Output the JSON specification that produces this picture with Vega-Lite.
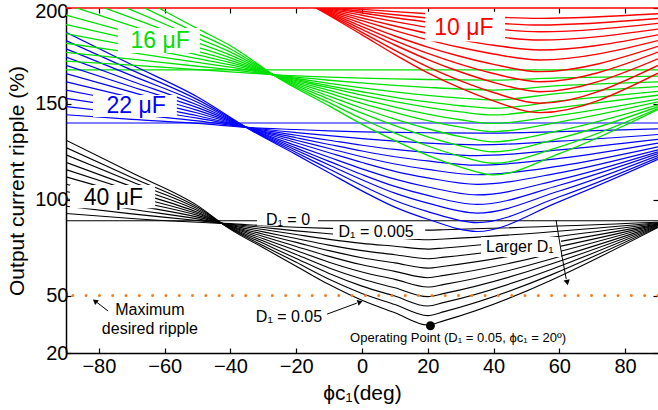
{
  "$schema": "https://vega.github.io/schema/vega-lite/v6.json",
  "width": 592,
  "height": 345,
  "autosize": "none",
  "padding": {"left": 66, "top": 8, "right": 0, "bottom": 57},
  "background": "white",
  "config": {
    "view": {"stroke": null},
    "font": "Liberation Sans",
    "axis": {
      "grid": false,
      "domainColor": "black",
      "domainWidth": 1.5,
      "tickColor": "black",
      "tickWidth": 1.2,
      "tickSize": -5,
      "labelColor": "black",
      "labelFont": "Liberation Sans",
      "labelFontSize": 20,
      "titleFont": "Liberation Sans",
      "titleFontSize": 21,
      "titleFontWeight": "normal",
      "titleColor": "black"
    }
  },
  "datasets": {
    "curves": [
      {"C":"40 μF","k":0,"phi":-90,"v":89},{"C":"40 μF","k":0,"phi":90,"v":89},
      {"C":"22 μF","k":0,"phi":-90,"v":140},{"C":"22 μF","k":0,"phi":90,"v":140},
      {"C":"16 μF","k":0,"phi":-90,"v":167.7},{"C":"16 μF","k":0,"phi":90,"v":167.7},
      {"C":"10 μF","k":0,"phi":-90,"v":200},{"C":"10 μF","k":0,"phi":90,"v":200},

      {"C":"40 μF","k":1,"phi":-90,"v":92.8},{"C":"40 μF","k":1,"phi":-70,"v":90.2},{"C":"40 μF","k":1,"phi":-50,"v":88.2},{"C":"40 μF","k":1,"phi":-40,"v":87.5},{"C":"40 μF","k":1,"phi":-30,"v":86.4},{"C":"40 μF","k":1,"phi":-20,"v":85.6},{"C":"40 μF","k":1,"phi":-10,"v":85.0},{"C":"40 μF","k":1,"phi":0,"v":84.6},{"C":"40 μF","k":1,"phi":10,"v":84.3},{"C":"40 μF","k":1,"phi":20,"v":84.1},{"C":"40 μF","k":1,"phi":25,"v":84.3},{"C":"40 μF","k":1,"phi":90,"v":88.2},
      {"C":"40 μF","k":2,"phi":-90,"v":96.6},{"C":"40 μF","k":2,"phi":-70,"v":92.6},{"C":"40 μF","k":2,"phi":-50,"v":89.1},{"C":"40 μF","k":2,"phi":-40,"v":87.2},{"C":"40 μF","k":2,"phi":-30,"v":85.5},{"C":"40 μF","k":2,"phi":-20,"v":83.7},{"C":"40 μF","k":2,"phi":-10,"v":82.2},{"C":"40 μF","k":2,"phi":0,"v":80.8},{"C":"40 μF","k":2,"phi":10,"v":80.0},{"C":"40 μF","k":2,"phi":20,"v":79.1},{"C":"40 μF","k":2,"phi":25,"v":79.5},{"C":"40 μF","k":2,"phi":90,"v":88.0},
      {"C":"40 μF","k":3,"phi":-90,"v":100.5},{"C":"40 μF","k":3,"phi":-70,"v":95.0},{"C":"40 μF","k":3,"phi":-50,"v":90.0},{"C":"40 μF","k":3,"phi":-40,"v":86.9},{"C":"40 μF","k":3,"phi":-30,"v":84.4},{"C":"40 μF","k":3,"phi":-20,"v":81.8},{"C":"40 μF","k":3,"phi":-10,"v":79.3},{"C":"40 μF","k":3,"phi":0,"v":77.2},{"C":"40 μF","k":3,"phi":10,"v":75.7},{"C":"40 μF","k":3,"phi":20,"v":74.2},{"C":"40 μF","k":3,"phi":25,"v":74.8},{"C":"40 μF","k":3,"phi":90,"v":87.7},
      {"C":"40 μF","k":4,"phi":-90,"v":104.3},{"C":"40 μF","k":4,"phi":-70,"v":97.4},{"C":"40 μF","k":4,"phi":-50,"v":90.9},{"C":"40 μF","k":4,"phi":-40,"v":86.6},{"C":"40 μF","k":4,"phi":-30,"v":83.2},{"C":"40 μF","k":4,"phi":-20,"v":79.7},{"C":"40 μF","k":4,"phi":-10,"v":76.3},{"C":"40 μF","k":4,"phi":0,"v":73.4},{"C":"40 μF","k":4,"phi":10,"v":71.3},{"C":"40 μF","k":4,"phi":20,"v":69.2},{"C":"40 μF","k":4,"phi":25,"v":70.0},{"C":"40 μF","k":4,"phi":90,"v":87.4},
      {"C":"40 μF","k":5,"phi":-90,"v":108.1},{"C":"40 μF","k":5,"phi":-70,"v":99.7},{"C":"40 μF","k":5,"phi":-50,"v":91.8},{"C":"40 μF","k":5,"phi":-40,"v":86.3},{"C":"40 μF","k":5,"phi":-30,"v":82.0},{"C":"40 μF","k":5,"phi":-20,"v":77.7},{"C":"40 μF","k":5,"phi":-10,"v":73.4},{"C":"40 μF","k":5,"phi":0,"v":69.7},{"C":"40 μF","k":5,"phi":10,"v":67.0},{"C":"40 μF","k":5,"phi":20,"v":64.3},{"C":"40 μF","k":5,"phi":25,"v":65.3},{"C":"40 μF","k":5,"phi":90,"v":87.1},
      {"C":"40 μF","k":6,"phi":-90,"v":111.9},{"C":"40 μF","k":6,"phi":-70,"v":102.1},{"C":"40 μF","k":6,"phi":-50,"v":92.6},{"C":"40 μF","k":6,"phi":-40,"v":86.0},{"C":"40 μF","k":6,"phi":-30,"v":80.8},{"C":"40 μF","k":6,"phi":-20,"v":75.6},{"C":"40 μF","k":6,"phi":-10,"v":70.4},{"C":"40 μF","k":6,"phi":0,"v":66.0},{"C":"40 μF","k":6,"phi":10,"v":62.6},{"C":"40 μF","k":6,"phi":20,"v":59.3},{"C":"40 μF","k":6,"phi":25,"v":60.5},{"C":"40 μF","k":6,"phi":90,"v":86.9},
      {"C":"40 μF","k":7,"phi":-90,"v":115.7},{"C":"40 μF","k":7,"phi":-70,"v":104.5},{"C":"40 μF","k":7,"phi":-50,"v":93.4},{"C":"40 μF","k":7,"phi":-40,"v":85.7},{"C":"40 μF","k":7,"phi":-30,"v":79.6},{"C":"40 μF","k":7,"phi":-20,"v":73.5},{"C":"40 μF","k":7,"phi":-10,"v":67.4},{"C":"40 μF","k":7,"phi":0,"v":62.3},{"C":"40 μF","k":7,"phi":10,"v":58.4},{"C":"40 μF","k":7,"phi":20,"v":54.4},{"C":"40 μF","k":7,"phi":25,"v":55.8},{"C":"40 μF","k":7,"phi":90,"v":86.6},
      {"C":"40 μF","k":8,"phi":-90,"v":119.5},{"C":"40 μF","k":8,"phi":-70,"v":106.8},{"C":"40 μF","k":8,"phi":-50,"v":94.3},{"C":"40 μF","k":8,"phi":-40,"v":85.4},{"C":"40 μF","k":8,"phi":-30,"v":78.4},{"C":"40 μF","k":8,"phi":-20,"v":71.4},{"C":"40 μF","k":8,"phi":-10,"v":64.4},{"C":"40 μF","k":8,"phi":0,"v":58.6},{"C":"40 μF","k":8,"phi":10,"v":54.0},{"C":"40 μF","k":8,"phi":20,"v":49.4},{"C":"40 μF","k":8,"phi":25,"v":51.1},{"C":"40 μF","k":8,"phi":90,"v":86.3},
      {"C":"40 μF","k":9,"phi":-90,"v":123.4},{"C":"40 μF","k":9,"phi":-70,"v":109.3},{"C":"40 μF","k":9,"phi":-50,"v":95.2},{"C":"40 μF","k":9,"phi":-40,"v":85.1},{"C":"40 μF","k":9,"phi":-30,"v":77.2},{"C":"40 μF","k":9,"phi":-20,"v":69.3},{"C":"40 μF","k":9,"phi":-10,"v":61.5},{"C":"40 μF","k":9,"phi":0,"v":54.9},{"C":"40 μF","k":9,"phi":10,"v":49.7},{"C":"40 μF","k":9,"phi":20,"v":44.5},{"C":"40 μF","k":9,"phi":25,"v":46.4},{"C":"40 μF","k":9,"phi":90,"v":86.0},
      {"C":"40 μF","k":10,"phi":-90,"v":127.2},{"C":"40 μF","k":10,"phi":-70,"v":111.6},{"C":"40 μF","k":10,"phi":-50,"v":96.0},{"C":"40 μF","k":10,"phi":-40,"v":84.8},{"C":"40 μF","k":10,"phi":-30,"v":76.0},{"C":"40 μF","k":10,"phi":-20,"v":67.3},{"C":"40 μF","k":10,"phi":-10,"v":58.5},{"C":"40 μF","k":10,"phi":0,"v":51.1},{"C":"40 μF","k":10,"phi":10,"v":45.3},{"C":"40 μF","k":10,"phi":20,"v":39.5},{"C":"40 μF","k":10,"phi":25,"v":41.6},{"C":"40 μF","k":10,"phi":90,"v":85.8},
      {"C":"40 μF","k":11,"phi":-90,"v":131},{"C":"40 μF","k":11,"phi":-70,"v":114},{"C":"40 μF","k":11,"phi":-50,"v":96.9},{"C":"40 μF","k":11,"phi":-40,"v":84.5},{"C":"40 μF","k":11,"phi":-30,"v":74.9},{"C":"40 μF","k":11,"phi":-20,"v":65.3},{"C":"40 μF","k":11,"phi":-10,"v":55.7},{"C":"40 μF","k":11,"phi":0,"v":47.5},{"C":"40 μF","k":11,"phi":10,"v":41.0},{"C":"40 μF","k":11,"phi":20,"v":34.6},{"C":"40 μF","k":11,"phi":25,"v":36.9},{"C":"40 μF","k":11,"phi":90,"v":85.5},

      {"C":"22 μF","k":1,"phi":-90,"v":144.3},{"C":"22 μF","k":1,"phi":-70,"v":141.9},{"C":"22 μF","k":1,"phi":-50,"v":139.8},{"C":"22 μF","k":1,"phi":-33,"v":137.5},{"C":"22 μF","k":1,"phi":-20,"v":136.6},{"C":"22 μF","k":1,"phi":-10,"v":135.9},{"C":"22 μF","k":1,"phi":0,"v":135.4},{"C":"22 μF","k":1,"phi":10,"v":135.1},{"C":"22 μF","k":1,"phi":20,"v":134.9},{"C":"22 μF","k":1,"phi":35,"v":134.7},{"C":"22 μF","k":1,"phi":60,"v":135.5},{"C":"22 μF","k":1,"phi":90,"v":137},
      {"C":"22 μF","k":2,"phi":-90,"v":148.6},{"C":"22 μF","k":2,"phi":-70,"v":144.7},{"C":"22 μF","k":2,"phi":-50,"v":141.1},{"C":"22 μF","k":2,"phi":-33,"v":137.3},{"C":"22 μF","k":2,"phi":-20,"v":135.0},{"C":"22 μF","k":2,"phi":-10,"v":133.4},{"C":"22 μF","k":2,"phi":0,"v":131.8},{"C":"22 μF","k":2,"phi":10,"v":130.5},{"C":"22 μF","k":2,"phi":20,"v":129.5},{"C":"22 μF","k":2,"phi":35,"v":128.6},{"C":"22 μF","k":2,"phi":60,"v":130.5},{"C":"22 μF","k":2,"phi":90,"v":134},
      {"C":"22 μF","k":3,"phi":-90,"v":152.9},{"C":"22 μF","k":3,"phi":-70,"v":147.6},{"C":"22 μF","k":3,"phi":-50,"v":142.5},{"C":"22 μF","k":3,"phi":-33,"v":137.1},{"C":"22 μF","k":3,"phi":-20,"v":133.6},{"C":"22 μF","k":3,"phi":-10,"v":131.0},{"C":"22 μF","k":3,"phi":0,"v":128.4},{"C":"22 μF","k":3,"phi":10,"v":126.2},{"C":"22 μF","k":3,"phi":20,"v":124.6},{"C":"22 μF","k":3,"phi":35,"v":123},{"C":"22 μF","k":3,"phi":60,"v":126},{"C":"22 μF","k":3,"phi":90,"v":131.5},
      {"C":"22 μF","k":4,"phi":-90,"v":157.2},{"C":"22 μF","k":4,"phi":-70,"v":150.5},{"C":"22 μF","k":4,"phi":-50,"v":143.8},{"C":"22 μF","k":4,"phi":-33,"v":136.9},{"C":"22 μF","k":4,"phi":-20,"v":132.3},{"C":"22 μF","k":4,"phi":-10,"v":128.8},{"C":"22 μF","k":4,"phi":0,"v":125.4},{"C":"22 μF","k":4,"phi":10,"v":122.4},{"C":"22 μF","k":4,"phi":20,"v":120.2},{"C":"22 μF","k":4,"phi":35,"v":118},{"C":"22 μF","k":4,"phi":60,"v":121.5},{"C":"22 μF","k":4,"phi":90,"v":129.5},
      {"C":"22 μF","k":5,"phi":-90,"v":161.5},{"C":"22 μF","k":5,"phi":-70,"v":153.2},{"C":"22 μF","k":5,"phi":-50,"v":145.2},{"C":"22 μF","k":5,"phi":-33,"v":136.7},{"C":"22 μF","k":5,"phi":-20,"v":131.0},{"C":"22 μF","k":5,"phi":-10,"v":126.7},{"C":"22 μF","k":5,"phi":0,"v":122.4},{"C":"22 μF","k":5,"phi":10,"v":118.6},{"C":"22 μF","k":5,"phi":20,"v":115.8},{"C":"22 μF","k":5,"phi":35,"v":113},{"C":"22 μF","k":5,"phi":60,"v":117.5},{"C":"22 μF","k":5,"phi":90,"v":127.5},
      {"C":"22 μF","k":6,"phi":-90,"v":165.8},{"C":"22 μF","k":6,"phi":-70,"v":156.1},{"C":"22 μF","k":6,"phi":-50,"v":146.6},{"C":"22 μF","k":6,"phi":-33,"v":136.5},{"C":"22 μF","k":6,"phi":-20,"v":129.7},{"C":"22 μF","k":6,"phi":-10,"v":124.5},{"C":"22 μF","k":6,"phi":0,"v":119.4},{"C":"22 μF","k":6,"phi":10,"v":114.8},{"C":"22 μF","k":6,"phi":20,"v":111.4},{"C":"22 μF","k":6,"phi":35,"v":108},{"C":"22 μF","k":6,"phi":60,"v":114},{"C":"22 μF","k":6,"phi":90,"v":126},
      {"C":"22 μF","k":7,"phi":-90,"v":170.1},{"C":"22 μF","k":7,"phi":-70,"v":158.9},{"C":"22 μF","k":7,"phi":-50,"v":148.0},{"C":"22 μF","k":7,"phi":-33,"v":136.3},{"C":"22 μF","k":7,"phi":-20,"v":128.2},{"C":"22 μF","k":7,"phi":-10,"v":122.1},{"C":"22 μF","k":7,"phi":0,"v":116.1},{"C":"22 μF","k":7,"phi":10,"v":110.7},{"C":"22 μF","k":7,"phi":20,"v":106.6},{"C":"22 μF","k":7,"phi":35,"v":102.5},{"C":"22 μF","k":7,"phi":60,"v":110.5},{"C":"22 μF","k":7,"phi":90,"v":125},
      {"C":"22 μF","k":8,"phi":-90,"v":174.4},{"C":"22 μF","k":8,"phi":-70,"v":161.8},{"C":"22 μF","k":8,"phi":-50,"v":149.4},{"C":"22 μF","k":8,"phi":-33,"v":136.1},{"C":"22 μF","k":8,"phi":-20,"v":126.9},{"C":"22 μF","k":8,"phi":-10,"v":120.0},{"C":"22 μF","k":8,"phi":0,"v":113.1},{"C":"22 μF","k":8,"phi":10,"v":106.9},{"C":"22 μF","k":8,"phi":20,"v":102.2},{"C":"22 μF","k":8,"phi":35,"v":97.5},{"C":"22 μF","k":8,"phi":60,"v":107.5},{"C":"22 μF","k":8,"phi":90,"v":124},
      {"C":"22 μF","k":9,"phi":-90,"v":178.7},{"C":"22 μF","k":9,"phi":-70,"v":164.7},{"C":"22 μF","k":9,"phi":-50,"v":150.8},{"C":"22 μF","k":9,"phi":-33,"v":135.9},{"C":"22 μF","k":9,"phi":-20,"v":125.8},{"C":"22 μF","k":9,"phi":-10,"v":118.1},{"C":"22 μF","k":9,"phi":0,"v":110.4},{"C":"22 μF","k":9,"phi":10,"v":103.4},{"C":"22 μF","k":9,"phi":20,"v":98.2},{"C":"22 μF","k":9,"phi":35,"v":93},{"C":"22 μF","k":9,"phi":60,"v":104.5},{"C":"22 μF","k":9,"phi":90,"v":123},
      {"C":"22 μF","k":10,"phi":-90,"v":183.0},{"C":"22 μF","k":10,"phi":-70,"v":167.6},{"C":"22 μF","k":10,"phi":-50,"v":152.2},{"C":"22 μF","k":10,"phi":-33,"v":135.7},{"C":"22 μF","k":10,"phi":-20,"v":124.6},{"C":"22 μF","k":10,"phi":-10,"v":116.0},{"C":"22 μF","k":10,"phi":0,"v":107.4},{"C":"22 μF","k":10,"phi":10,"v":99.6},{"C":"22 μF","k":10,"phi":20,"v":93.8},{"C":"22 μF","k":10,"phi":35,"v":88},{"C":"22 μF","k":10,"phi":60,"v":101.5},{"C":"22 μF","k":10,"phi":90,"v":122},
      {"C":"22 μF","k":11,"phi":-90,"v":187.3},{"C":"22 μF","k":11,"phi":-70,"v":170.4},{"C":"22 μF","k":11,"phi":-50,"v":153.6},{"C":"22 μF","k":11,"phi":-33,"v":135.5},{"C":"22 μF","k":11,"phi":-20,"v":123.5},{"C":"22 μF","k":11,"phi":-10,"v":114.0},{"C":"22 μF","k":11,"phi":0,"v":104.6},{"C":"22 μF","k":11,"phi":10,"v":96.1},{"C":"22 μF","k":11,"phi":20,"v":89.8},{"C":"22 μF","k":11,"phi":35,"v":83.4},{"C":"22 μF","k":11,"phi":60,"v":99},{"C":"22 μF","k":11,"phi":90,"v":121},

      {"C":"16 μF","k":1,"phi":-90,"v":172.3},{"C":"16 μF","k":1,"phi":-70,"v":170.2},{"C":"16 μF","k":1,"phi":-50,"v":167.8},{"C":"16 μF","k":1,"phi":-40,"v":166.7},{"C":"16 μF","k":1,"phi":-25,"v":165},{"C":"16 μF","k":1,"phi":-10,"v":163.9},{"C":"16 μF","k":1,"phi":0,"v":163.4},{"C":"16 μF","k":1,"phi":10,"v":163.0},{"C":"16 μF","k":1,"phi":20,"v":162.7},{"C":"16 μF","k":1,"phi":30,"v":162.5},{"C":"16 μF","k":1,"phi":40,"v":162.4},{"C":"16 μF","k":1,"phi":60,"v":163.5},{"C":"16 μF","k":1,"phi":90,"v":164.5},
      {"C":"16 μF","k":2,"phi":-90,"v":176.8},{"C":"16 μF","k":2,"phi":-70,"v":173.3},{"C":"16 μF","k":2,"phi":-50,"v":169.6},{"C":"16 μF","k":2,"phi":-40,"v":167.9},{"C":"16 μF","k":2,"phi":-25,"v":164.8},{"C":"16 μF","k":2,"phi":-10,"v":162.3},{"C":"16 μF","k":2,"phi":0,"v":160.9},{"C":"16 μF","k":2,"phi":10,"v":159.6},{"C":"16 μF","k":2,"phi":20,"v":158.6},{"C":"16 μF","k":2,"phi":30,"v":157.7},{"C":"16 μF","k":2,"phi":40,"v":157.2},{"C":"16 μF","k":2,"phi":60,"v":159.5},{"C":"16 μF","k":2,"phi":90,"v":161.5},
      {"C":"16 μF","k":3,"phi":-90,"v":181.6},{"C":"16 μF","k":3,"phi":-70,"v":176.7},{"C":"16 μF","k":3,"phi":-50,"v":171.6},{"C":"16 μF","k":3,"phi":-40,"v":169.1},{"C":"16 μF","k":3,"phi":-25,"v":164.6},{"C":"16 μF","k":3,"phi":-10,"v":160.7},{"C":"16 μF","k":3,"phi":0,"v":158.3},{"C":"16 μF","k":3,"phi":10,"v":156.2},{"C":"16 μF","k":3,"phi":20,"v":154.4},{"C":"16 μF","k":3,"phi":30,"v":153.0},{"C":"16 μF","k":3,"phi":40,"v":152},{"C":"16 μF","k":3,"phi":60,"v":155.5},{"C":"16 μF","k":3,"phi":90,"v":159},
      {"C":"16 μF","k":4,"phi":-90,"v":186.6},{"C":"16 μF","k":4,"phi":-70,"v":180.1},{"C":"16 μF","k":4,"phi":-50,"v":173.6},{"C":"16 μF","k":4,"phi":-40,"v":170.3},{"C":"16 μF","k":4,"phi":-25,"v":164.4},{"C":"16 μF","k":4,"phi":-10,"v":159.4},{"C":"16 μF","k":4,"phi":0,"v":156.3},{"C":"16 μF","k":4,"phi":10,"v":153.4},{"C":"16 μF","k":4,"phi":20,"v":151.0},{"C":"16 μF","k":4,"phi":30,"v":149.0},{"C":"16 μF","k":4,"phi":40,"v":147.7},{"C":"16 μF","k":4,"phi":60,"v":151.5},{"C":"16 μF","k":4,"phi":90,"v":156.5},
      {"C":"16 μF","k":5,"phi":-90,"v":191.4},{"C":"16 μF","k":5,"phi":-70,"v":183.6},{"C":"16 μF","k":5,"phi":-50,"v":175.5},{"C":"16 μF","k":5,"phi":-40,"v":171.5},{"C":"16 μF","k":5,"phi":-25,"v":164.2},{"C":"16 μF","k":5,"phi":-10,"v":158.4},{"C":"16 μF","k":5,"phi":0,"v":154.5},{"C":"16 μF","k":5,"phi":10,"v":151.1},{"C":"16 μF","k":5,"phi":20,"v":148.2},{"C":"16 μF","k":5,"phi":30,"v":145.8},{"C":"16 μF","k":5,"phi":40,"v":144.2},{"C":"16 μF","k":5,"phi":60,"v":148},{"C":"16 μF","k":5,"phi":90,"v":154.5},
      {"C":"16 μF","k":6,"phi":-90,"v":196.3},{"C":"16 μF","k":6,"phi":-70,"v":186.9},{"C":"16 μF","k":6,"phi":-50,"v":177.4},{"C":"16 μF","k":6,"phi":-40,"v":172.7},{"C":"16 μF","k":6,"phi":-25,"v":164},{"C":"16 μF","k":6,"phi":-10,"v":157.0},{"C":"16 μF","k":6,"phi":0,"v":152.4},{"C":"16 μF","k":6,"phi":10,"v":148.3},{"C":"16 μF","k":6,"phi":20,"v":144.6},{"C":"16 μF","k":6,"phi":30,"v":141.7},{"C":"16 μF","k":6,"phi":40,"v":139.8},{"C":"16 μF","k":6,"phi":60,"v":144},{"C":"16 μF","k":6,"phi":90,"v":152.5},
      {"C":"16 μF","k":7,"phi":-90,"v":201.8},{"C":"16 μF","k":7,"phi":-70,"v":190.7},{"C":"16 μF","k":7,"phi":-50,"v":179.6},{"C":"16 μF","k":7,"phi":-40,"v":174.0},{"C":"16 μF","k":7,"phi":-25,"v":163.8},{"C":"16 μF","k":7,"phi":-10,"v":155.6},{"C":"16 μF","k":7,"phi":0,"v":150.2},{"C":"16 μF","k":7,"phi":10,"v":145.5},{"C":"16 μF","k":7,"phi":20,"v":141.2},{"C":"16 μF","k":7,"phi":30,"v":137.8},{"C":"16 μF","k":7,"phi":40,"v":135.5},{"C":"16 μF","k":7,"phi":60,"v":140.5},{"C":"16 μF","k":7,"phi":90,"v":151},
      {"C":"16 μF","k":8,"phi":-90,"v":207.5},{"C":"16 μF","k":8,"phi":-70,"v":194.8},{"C":"16 μF","k":8,"phi":-50,"v":181.9},{"C":"16 μF","k":8,"phi":-40,"v":175.4},{"C":"16 μF","k":8,"phi":-25,"v":163.6},{"C":"16 μF","k":8,"phi":-10,"v":154.0},{"C":"16 μF","k":8,"phi":0,"v":147.7},{"C":"16 μF","k":8,"phi":10,"v":142.0},{"C":"16 μF","k":8,"phi":20,"v":137.0},{"C":"16 μF","k":8,"phi":30,"v":132.9},{"C":"16 μF","k":8,"phi":40,"v":130.2},{"C":"16 μF","k":8,"phi":60,"v":136},{"C":"16 μF","k":8,"phi":90,"v":149.5},
      {"C":"16 μF","k":9,"phi":-90,"v":213.3},{"C":"16 μF","k":9,"phi":-70,"v":198.9},{"C":"16 μF","k":9,"phi":-50,"v":184.3},{"C":"16 μF","k":9,"phi":-40,"v":177.0},{"C":"16 μF","k":9,"phi":-25,"v":163.4},{"C":"16 μF","k":9,"phi":-10,"v":152.4},{"C":"16 μF","k":9,"phi":0,"v":145.1},{"C":"16 μF","k":9,"phi":10,"v":138.6},{"C":"16 μF","k":9,"phi":20,"v":132.8},{"C":"16 μF","k":9,"phi":30,"v":128.1},{"C":"16 μF","k":9,"phi":40,"v":125},{"C":"16 μF","k":9,"phi":60,"v":132},{"C":"16 μF","k":9,"phi":90,"v":148.5},
      {"C":"16 μF","k":10,"phi":-90,"v":219.3},{"C":"16 μF","k":10,"phi":-70,"v":203.2},{"C":"16 μF","k":10,"phi":-50,"v":186.8},{"C":"16 μF","k":10,"phi":-40,"v":178.6},{"C":"16 μF","k":10,"phi":-25,"v":163.2},{"C":"16 μF","k":10,"phi":-10,"v":150.6},{"C":"16 μF","k":10,"phi":0,"v":142.2},{"C":"16 μF","k":10,"phi":10,"v":134.7},{"C":"16 μF","k":10,"phi":20,"v":128.0},{"C":"16 μF","k":10,"phi":30,"v":122.6},{"C":"16 μF","k":10,"phi":40,"v":119},{"C":"16 μF","k":10,"phi":60,"v":127.5},{"C":"16 μF","k":10,"phi":90,"v":147.5},
      {"C":"16 μF","k":11,"phi":-90,"v":225.5},{"C":"16 μF","k":11,"phi":-70,"v":207.6},{"C":"16 μF","k":11,"phi":-50,"v":189.2},{"C":"16 μF","k":11,"phi":-40,"v":180.3},{"C":"16 μF","k":11,"phi":-25,"v":163},{"C":"16 μF","k":11,"phi":-10,"v":148.9},{"C":"16 μF","k":11,"phi":0,"v":139.3},{"C":"16 μF","k":11,"phi":10,"v":130.8},{"C":"16 μF","k":11,"phi":20,"v":123.1},{"C":"16 μF","k":11,"phi":30,"v":117.0},{"C":"16 μF","k":11,"phi":40,"v":112.9},{"C":"16 μF","k":11,"phi":60,"v":124},{"C":"16 μF","k":11,"phi":90,"v":147},

      {"C":"10 μF","k":1,"phi":-90,"v":204.6},{"C":"10 μF","k":1,"phi":-15,"v":201},{"C":"10 μF","k":1,"phi":0,"v":199.3},{"C":"10 μF","k":1,"phi":10,"v":198.1},{"C":"10 μF","k":1,"phi":20,"v":197.0},{"C":"10 μF","k":1,"phi":30,"v":196.1},{"C":"10 μF","k":1,"phi":40,"v":195.3},{"C":"10 μF","k":1,"phi":54,"v":194.6},{"C":"10 μF","k":1,"phi":90,"v":197},
      {"C":"10 μF","k":2,"phi":-90,"v":208.3},{"C":"10 μF","k":2,"phi":-15,"v":201},{"C":"10 μF","k":2,"phi":0,"v":198.3},{"C":"10 μF","k":2,"phi":10,"v":196.5},{"C":"10 μF","k":2,"phi":20,"v":194.8},{"C":"10 μF","k":2,"phi":30,"v":193.4},{"C":"10 μF","k":2,"phi":40,"v":192.2},{"C":"10 μF","k":2,"phi":54,"v":191.1},{"C":"10 μF","k":2,"phi":90,"v":194.5},
      {"C":"10 μF","k":3,"phi":-90,"v":211.9},{"C":"10 μF","k":3,"phi":-15,"v":201},{"C":"10 μF","k":3,"phi":0,"v":197.4},{"C":"10 μF","k":3,"phi":10,"v":194.9},{"C":"10 μF","k":3,"phi":20,"v":192.6},{"C":"10 μF","k":3,"phi":30,"v":190.7},{"C":"10 μF","k":3,"phi":40,"v":189.1},{"C":"10 μF","k":3,"phi":54,"v":187.6},{"C":"10 μF","k":3,"phi":90,"v":192},
      {"C":"10 μF","k":4,"phi":-90,"v":215.5},{"C":"10 μF","k":4,"phi":-15,"v":201},{"C":"10 μF","k":4,"phi":0,"v":196.2},{"C":"10 μF","k":4,"phi":10,"v":192.9},{"C":"10 μF","k":4,"phi":20,"v":189.9},{"C":"10 μF","k":4,"phi":30,"v":187.4},{"C":"10 μF","k":4,"phi":40,"v":185.2},{"C":"10 μF","k":4,"phi":54,"v":183.3},{"C":"10 μF","k":4,"phi":90,"v":189},
      {"C":"10 μF","k":5,"phi":-90,"v":219.2},{"C":"10 μF","k":5,"phi":-15,"v":201},{"C":"10 μF","k":5,"phi":0,"v":194.8},{"C":"10 μF","k":5,"phi":10,"v":190.6},{"C":"10 μF","k":5,"phi":20,"v":186.7},{"C":"10 μF","k":5,"phi":30,"v":183.4},{"C":"10 μF","k":5,"phi":40,"v":180.6},{"C":"10 μF","k":5,"phi":54,"v":178.1},{"C":"10 μF","k":5,"phi":90,"v":186},
      {"C":"10 μF","k":6,"phi":-90,"v":222.8},{"C":"10 μF","k":6,"phi":-15,"v":201},{"C":"10 μF","k":6,"phi":0,"v":193.4},{"C":"10 μF","k":6,"phi":10,"v":188.2},{"C":"10 μF","k":6,"phi":20,"v":183.4},{"C":"10 μF","k":6,"phi":30,"v":179.4},{"C":"10 μF","k":6,"phi":40,"v":176.0},{"C":"10 μF","k":6,"phi":54,"v":172.9},{"C":"10 μF","k":6,"phi":90,"v":183},
      {"C":"10 μF","k":7,"phi":-90,"v":226.5},{"C":"10 μF","k":7,"phi":-15,"v":201},{"C":"10 μF","k":7,"phi":0,"v":191.8},{"C":"10 μF","k":7,"phi":10,"v":185.4},{"C":"10 μF","k":7,"phi":20,"v":179.6},{"C":"10 μF","k":7,"phi":30,"v":174.7},{"C":"10 μF","k":7,"phi":40,"v":170.6},{"C":"10 μF","k":7,"phi":54,"v":166.8},{"C":"10 μF","k":7,"phi":90,"v":180},
      {"C":"10 μF","k":8,"phi":-90,"v":230.1},{"C":"10 μF","k":8,"phi":-15,"v":201},{"C":"10 μF","k":8,"phi":0,"v":190.3},{"C":"10 μF","k":8,"phi":10,"v":183.0},{"C":"10 μF","k":8,"phi":20,"v":176.3},{"C":"10 μF","k":8,"phi":30,"v":170.6},{"C":"10 μF","k":8,"phi":40,"v":165.8},{"C":"10 μF","k":8,"phi":54,"v":161.5},{"C":"10 μF","k":8,"phi":90,"v":177},
      {"C":"10 μF","k":9,"phi":-90,"v":233.7},{"C":"10 μF","k":9,"phi":-15,"v":201},{"C":"10 μF","k":9,"phi":0,"v":188.9},{"C":"10 μF","k":9,"phi":10,"v":180.7},{"C":"10 μF","k":9,"phi":20,"v":173.1},{"C":"10 μF","k":9,"phi":30,"v":166.6},{"C":"10 μF","k":9,"phi":40,"v":161.2},{"C":"10 μF","k":9,"phi":54,"v":156.3},{"C":"10 μF","k":9,"phi":90,"v":173.5},
      {"C":"10 μF","k":10,"phi":-90,"v":237.4},{"C":"10 μF","k":10,"phi":-15,"v":201},{"C":"10 μF","k":10,"phi":0,"v":187.3},{"C":"10 μF","k":10,"phi":10,"v":177.9},{"C":"10 μF","k":10,"phi":20,"v":169.3},{"C":"10 μF","k":10,"phi":30,"v":162.0},{"C":"10 μF","k":10,"phi":40,"v":155.9},{"C":"10 μF","k":10,"phi":54,"v":150.3},{"C":"10 μF","k":10,"phi":90,"v":170},
      {"C":"10 μF","k":11,"phi":-90,"v":241},{"C":"10 μF","k":11,"phi":-15,"v":201},{"C":"10 μF","k":11,"phi":0,"v":186.0},{"C":"10 μF","k":11,"phi":10,"v":175.7},{"C":"10 μF","k":11,"phi":20,"v":166.2},{"C":"10 μF","k":11,"phi":30,"v":158.2},{"C":"10 μF","k":11,"phi":40,"v":151.5},{"C":"10 μF","k":11,"phi":54,"v":145.4},{"C":"10 μF","k":11,"phi":90,"v":166}
    ],
    "boxes": [
      {"phi":19.2,"phi2":43.5,"v":198,"v2":182.5},
      {"phi":-74.2,"phi2":-49.3,"v":189.6,"v2":176.5},
      {"phi":-81.8,"phi2":-56.3,"v":154.6,"v2":143.1},
      {"phi":-88.8,"phi2":-62.9,"v":107.7,"v2":95.5},
      {"phi":-31.9,"phi2":-13.4,"v":93,"v2":86.5},
      {"phi":-8.8,"phi2":19.2,"v":87.5,"v2":79.5},
      {"phi":36.2,"phi2":60.5,"v":80.5,"v2":70.1}
    ],
    "groupLabels": [
      {"C":"10 μF","phi":31,"v":189.8,"text":"10 μF"},
      {"C":"16 μF","phi":-61.4,"v":182.8,"text":"16 μF"},
      {"C":"22 μF","phi":-68.7,"v":148.9,"text":"22 μF"},
      {"C":"40 μF","phi":-75.6,"v":100.9,"text":"40 μF"}
    ],
    "notes": [
      {"phi":-22.5,"v":89.4,"text":"D₁ = 0"},
      {"phi":4.3,"v":83.1,"text":"D₁ = 0.005"},
      {"phi":48.0,"v":75.3,"text":"Larger D₁"},
      {"phi":-22.2,"v":38.8,"text":"D₁ = 0.05"},
      {"phi":-64.5,"v":42.4,"text":"Maximum"},
      {"phi":-64.5,"v":32.5,"text":"desired ripple"}
    ],
    "arrows": [
      {"a":"max","o":1,"phi":-77.2,"v":41.9},{"a":"max","o":2,"phi":-80.6,"v":46.4},
      {"a":"d05","o":1,"phi":-10.6,"v":40.3},{"a":"d05","o":2,"phi":-1.6,"v":46.0},
      {"a":"larger","o":1,"phi":59.0,"v":89.4},{"a":"larger","o":2,"phi":60.5,"v":73.7},{"a":"larger","o":3,"phi":62.1,"v":58.5}
    ]
  },
  "resolve": {"axis": {"x": "independent", "y": "independent"}, "scale": {"strokeWidth": "independent"}},
  "layer": [
    {
      "data": {"name": "curves"},
      "transform": [{"filter": "datum.k == 0"}],
      "mark": {"type": "line", "clip": false},
      "encoding": {
        "x": {"field": "phi", "type": "quantitative", "scale": {"domain": [-90, 90], "nice": false, "zero": false},
              "axis": {"orient": "bottom", "values": [-80, -60, -40, -20, 0, 20, 40, 60, 80], "title": "ϕc₁(deg)", "labelPadding": 8, "titlePadding": 6}},
        "y": {"field": "v", "type": "quantitative", "scale": {"domain": [20, 200], "nice": false, "zero": false},
              "axis": {"orient": "left", "values": [20, 50, 100, 150, 200], "title": "Output current ripple (%)", "labelPadding": 3, "titlePadding": 7,
                       "labelOffset": {"expr": "datum.value == 200 ? 3 : 0"}}},
        "color": {"field": "C", "type": "nominal", "scale": {"domain": ["40 μF", "22 μF", "16 μF", "10 μF"], "range": ["#000000", "#0000ff", "#00e000", "#ff0000"]}, "legend": null},
        "strokeWidth": {"field": "C", "type": "nominal", "scale": {"domain": ["40 μF", "22 μF", "16 μF", "10 μF"], "range": [1.1, 1.4, 1.4, 3]}, "legend": null},
        "detail": {"field": "k", "type": "nominal"}
      }
    },
    {
      "data": {"name": "curves"},
      "transform": [{"filter": "datum.k > 0"}],
      "mark": {"type": "line", "clip": true, "interpolate": "monotone"},
      "encoding": {
        "x": {"field": "phi", "type": "quantitative", "scale": {"domain": [-90, 90], "nice": false, "zero": false},
              "axis": {"orient": "top", "values": [-80, -60, -40, -20, 0, 20, 40, 60, 80], "labels": false, "title": null, "domain": false}},
        "y": {"field": "v", "type": "quantitative", "scale": {"domain": [20, 200], "nice": false, "zero": false},
              "axis": {"orient": "right", "values": [20, 50, 100, 150, 200], "labels": false, "title": null, "domain": false}},
        "color": {"field": "C", "type": "nominal", "legend": null},
        "strokeWidth": {"field": "C", "type": "nominal", "scale": {"domain": ["40 μF", "22 μF", "16 μF", "10 μF"], "range": [1.1, 1.4, 1.4, 1.7]}, "legend": null},
        "detail": {"field": "k", "type": "nominal"}
      }
    },
    {
      "data": {"values": [{"v": 50}]},
      "mark": {"type": "rule", "color": "#f08020", "strokeWidth": 3, "strokeDash": [0, 13.3], "strokeCap": "round"},
      "encoding": {"y": {"field": "v", "type": "quantitative", "axis": null}}
    },
    {
      "data": {"name": "boxes"},
      "mark": {"type": "rect", "color": "white"},
      "encoding": {
        "x": {"field": "phi", "type": "quantitative", "axis": null},
        "x2": {"field": "phi2"},
        "y": {"field": "v", "type": "quantitative", "axis": null},
        "y2": {"field": "v2"}
      }
    },
    {
      "data": {"name": "groupLabels"},
      "mark": {"type": "text", "fontSize": 23, "font": "Liberation Sans", "align": "center", "baseline": "middle"},
      "encoding": {
        "x": {"field": "phi", "type": "quantitative", "axis": null},
        "y": {"field": "v", "type": "quantitative", "axis": null},
        "text": {"field": "text"},
        "color": {"field": "C", "type": "nominal", "legend": null}
      }
    },
    {
      "data": {"name": "notes"},
      "mark": {"type": "text", "fontSize": 16, "font": "Liberation Sans", "align": "center", "baseline": "middle", "color": "black"},
      "encoding": {
        "x": {"field": "phi", "type": "quantitative", "axis": null},
        "y": {"field": "v", "type": "quantitative", "axis": null},
        "text": {"field": "text"}
      }
    },
    {
      "data": {"values": [{"phi": 29.2, "v": 27.8, "text": "Operating Point (D₁ = 0.05, ϕc₁ = 20º)"}]},
      "mark": {"type": "text", "fontSize": 13, "font": "Liberation Sans", "align": "center", "baseline": "middle", "color": "black"},
      "encoding": {
        "x": {"field": "phi", "type": "quantitative", "axis": null},
        "y": {"field": "v", "type": "quantitative", "axis": null},
        "text": {"field": "text"}
      }
    },
    {
      "data": {"name": "arrows"},
      "mark": {"type": "line", "color": "black", "strokeWidth": 1, "interpolate": "monotone"},
      "encoding": {
        "x": {"field": "phi", "type": "quantitative", "axis": null},
        "y": {"field": "v", "type": "quantitative", "axis": null},
        "detail": {"field": "a", "type": "nominal"},
        "order": {"field": "o", "type": "quantitative"}
      }
    },
    {
      "data": {"values": [{"phi": -81.2, "v": 47.1}]},
      "mark": {"type": "point", "shape": "triangle-up", "filled": true, "color": "black", "size": 35, "angle": 308, "opacity": 1},
      "encoding": {"x": {"field": "phi", "type": "quantitative", "axis": null}, "y": {"field": "v", "type": "quantitative", "axis": null}}
    },
    {
      "data": {"values": [{"phi": -0.6, "v": 46.6}]},
      "mark": {"type": "point", "shape": "triangle-up", "filled": true, "color": "black", "size": 35, "angle": 70, "opacity": 1},
      "encoding": {"x": {"field": "phi", "type": "quantitative", "axis": null}, "y": {"field": "v", "type": "quantitative", "axis": null}}
    },
    {
      "data": {"values": [{"phi": 62.4, "v": 56.8}]},
      "mark": {"type": "point", "shape": "triangle-up", "filled": true, "color": "black", "size": 40, "angle": 168, "opacity": 1},
      "encoding": {"x": {"field": "phi", "type": "quantitative", "axis": null}, "y": {"field": "v", "type": "quantitative", "axis": null}}
    },
    {
      "data": {"values": [{"phi": 20.8, "v": 34.2}]},
      "mark": {"type": "point", "shape": "circle", "filled": true, "color": "black", "size": 80, "opacity": 1},
      "encoding": {"x": {"field": "phi", "type": "quantitative", "axis": null}, "y": {"field": "v", "type": "quantitative", "axis": null}}
    }
  ]
}
